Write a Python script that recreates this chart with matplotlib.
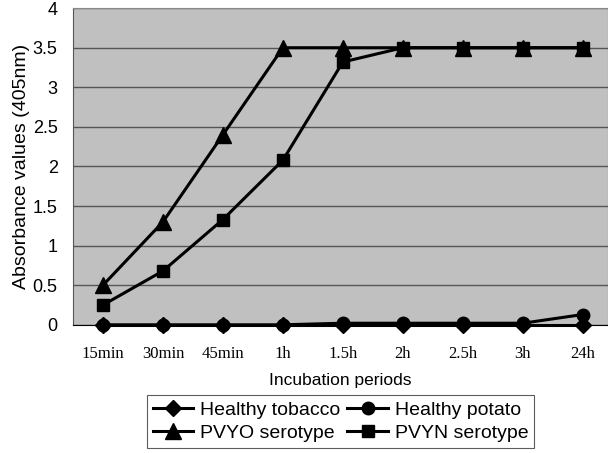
import matplotlib
matplotlib.use("Agg")
import matplotlib.pyplot as plt

# data
periods = ["15min", "30min", "45min", "1h", "1.5h", "2h", "2.5h", "3h", "24h"]
healthy_tobacco = [0, 0, 0, 0, 0, 0, 0, 0, 0]
healthy_potato = [0, 0, 0, 0, 0.02, 0.02, 0.02, 0.02, 0.13]
pvyo = [0.5, 1.3, 2.4, 3.5, 3.5, 3.5, 3.5, 3.5, 3.5]
pvyn = [0.25, 0.68, 1.33, 2.08, 3.32, 3.5, 3.5, 3.5, 3.5]

fig = plt.figure(figsize=(6.08, 4.53), dpi=100)
ax = fig.add_axes([0.12, 0.283, 0.88, 0.699])
ax.set_facecolor("#c0c0c0")

x = list(range(len(periods)))
style = dict(color="black", lw=2.2, clip_on=False)
l_tob, = ax.plot(x, healthy_tobacco, marker="D", markersize=8, label="Healthy tobacco", zorder=5, **style)
l_pot, = ax.plot(x, healthy_potato, marker="o", markersize=9, label="Healthy potato", zorder=4, **style)
l_o, = ax.plot(x, pvyo, marker="^", markersize=11, label="PVYO serotype", zorder=3, **style)
l_n, = ax.plot(x, pvyn, marker="s", markersize=8, label="PVYN serotype", zorder=3, **style)

ax.set_ylim(0, 4)
ax.set_yticks([0, 0.5, 1, 1.5, 2, 2.5, 3, 3.5, 4])
ax.set_yticklabels(["0", "0.5", "1", "1.5", "2", "2.5", "3", "3.5", "4"],
                   family="Liberation Sans", fontsize=13)
ax.set_xlim(-0.5, 8.42)
ax.set_xticks(x)
ax.set_xticklabels(periods, family="Liberation Serif", fontsize=12)
ax.tick_params(axis="x", length=0, pad=15)
ax.tick_params(axis="y", length=0, pad=11)
ax.yaxis.grid(True, color="#555555", lw=1)
ax.set_axisbelow(True)

for side in ["top", "right"]:
    ax.spines[side].set_color("#888888")
ax.spines["left"].set_color("#555555")
ax.spines["bottom"].set_color("black")

ax.set_xlabel("Incubation periods", family="Liberation Sans", fontsize=12.5, labelpad=8)
ax.set_ylabel("Absorbance values (405nm)", family="Liberation Sans", fontsize=14, labelpad=2)

# two columns, row-wise order like the reference
handles = [l_tob, l_o, l_pot, l_n]
leg = fig.legend(handles, [h.get_label() for h in handles],
                 loc="center", bbox_to_anchor=(0.56, 0.069), ncol=2,
                 prop={"family": "Liberation Sans", "size": 14},
                 frameon=True, fancybox=False, edgecolor="#333333",
                 handlelength=2.1, columnspacing=0.35, handletextpad=0.35,
                 labelspacing=0.3, borderpad=0.3, borderaxespad=0)
leg.get_frame().set_linewidth(0.8)

fig.savefig("out.png", dpi=100)
